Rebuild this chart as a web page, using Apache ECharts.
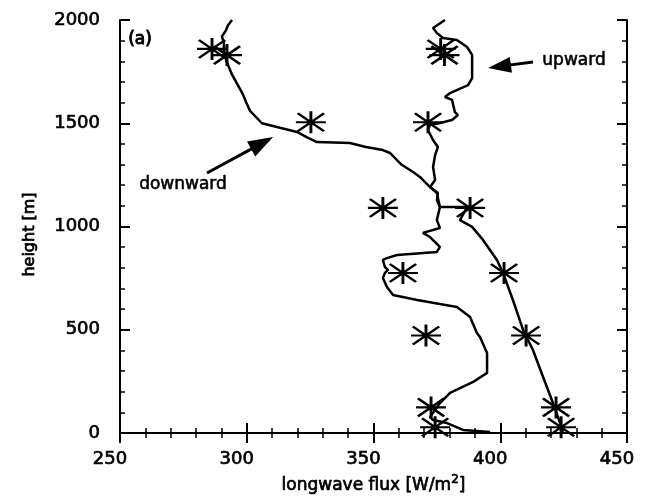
<!DOCTYPE html>
<html>
<head>
<meta charset="utf-8">
<script src="https://cdn.jsdelivr.net/npm/echarts@6/dist/echarts.min.js"></script>
<style>html,body{margin:0;padding:0;background:#fff;}#c{width:648px;height:501px;}</style>
</head>
<body>
<div id="c"></div>
<script>
// ---- data ----
const xTicks = [250, 300, 350, 400, 450];
const yTicks = [0, 500, 1000, 1500, 2000];

const downwardHeight = [2000, 1975, 1950, 1920, 1890, 1845, 1800, 1735, 1640, 1600, 1560, 1500, 1478, 1458, 1430, 1409, 1404, 1385, 1370, 1356, 1300, 1264, 1240, 1191, 1162, 1094, 1031, 993, 969, 949, 901, 877, 862, 847, 838, 804, 790, 775, 751, 707, 668, 644, 610, 562, 484, 465, 387, 291, 247, 194, 145, 77, 63, 48, 15, 5];
const downwardFlux   = [294.2, 292.6, 291.8, 290.2, 291.0, 291.0, 292.0, 294.2, 298.5, 299.8, 301.3, 306.0, 313.1, 319.8, 324.0, 327.7, 340.7, 347.0, 353.7, 356.5, 361.0, 365.6, 368.3, 372.3, 375.0, 376.2, 375.0, 376.2, 369.5, 372.3, 376.2, 375.0, 359.3, 355.3, 353.7, 354.5, 355.7, 354.5, 353.7, 355.3, 357.7, 367.2, 382.9, 388.1, 390.8, 392.0, 394.8, 394.8, 389.3, 380.2, 376.2, 372.3, 373.5, 379.0, 385.3, 396.0];

const upwardHeight = [2000, 1961, 1937, 1913, 1903, 1869, 1831, 1719, 1685, 1646, 1627, 1613, 1554, 1540, 1516, 1501, 1492, 1467, 1419, 1385, 1346, 1288, 1225, 1191, 1162, 1128, 1094, 1094, 1031, 998, 935, 838, 775, 644, 499, 402, 271, 145, 48, 5];
const upwardFlux   = [378.2, 373.5, 375.0, 377.4, 382.9, 386.9, 388.9, 388.9, 387.3, 380.2, 378.2, 381.0, 382.1, 383.3, 381.0, 376.2, 372.3, 371.5, 373.5, 375.4, 374.3, 373.5, 374.3, 372.3, 375.4, 375.0, 376.2, 386.9, 384.1, 388.9, 393.2, 398.7, 401.1, 405.0, 409.0, 412.9, 416.9, 420.8, 423.6, 424.8];

const starHeight   = [1860, 1830, 1505, 1090, 775, 472, 124, 28];
const downStarFlux = [286.3, 292.2, 325.3, 353.7, 361.6, 370.7, 372.7, 374.3];
const upStarFlux   = [376.5, 378.0, 371.5, 388.1, 401.5, 410.2, 422.0, 424.0];

// annotation anchors (data coordinates)
const downArrow = { tail: [284.3, 1259], tip: [310.4, 1433] };
const upArrow   = { tail: [412.9, 1797], tip: [395.2, 1768] };

// ---- chart ----
const pairs = (xs, ys) => xs.map((x, i) => [x, ys[i]]);
const FONT = 'DejaVu Sans';
const star = 'path://M0,11L32,11M16,0L16,22M2,2L30,20M2,20L30,2';
const txt = { fontFamily: FONT, color: '#000', textBorderColor: '#000', textBorderWidth: 0.7 };

const chart = echarts.init(document.getElementById('c'), null, { renderer: 'canvas' });

const axisCommon = {
  type: 'value',
  axisLine: { show: true, lineStyle: { color: '#000', width: 2 } },
  axisTick: { show: true, inside: true, length: 10, lineStyle: { color: '#000', width: 2 } },
  minorTick: { show: true, splitNumber: 5, length: 5, lineStyle: { color: '#000', width: 1.5 } },
  splitLine: { show: false },
  minorSplitLine: { show: false }
};
const plain = v => String(v);

const option = {
  animation: false,
  backgroundColor: '#fff',
  grid: { left: 120, right: 21, top: 20, bottom: 68, containLabel: false },
  xAxis: [
    Object.assign({}, axisCommon, {
      min: xTicks[0], max: xTicks[xTicks.length - 1], interval: 50,
      position: 'bottom',
      name: 'longwave flux [W/m{sup|2}]',
      nameLocation: 'middle', nameGap: 40,
      nameTextStyle: Object.assign({}, txt, { fontSize: 17,
        rich: { sup: Object.assign({}, txt, { fontSize: 12, verticalAlign: 'top', padding: [0, 0, 12, 0] }) } }),
      axisLabel: Object.assign({}, txt, { show: true, margin: 17, fontSize: 18, padding: [0, 20, 0, 0], formatter: plain })
    }),
    Object.assign({}, axisCommon, {
      min: xTicks[0], max: xTicks[xTicks.length - 1], interval: 50,
      position: 'top', axisLabel: { show: false }
    })
  ],
  yAxis: [
    Object.assign({}, axisCommon, {
      min: yTicks[0], max: yTicks[yTicks.length - 1], interval: 500,
      position: 'left',
      name: 'height [m]',
      nameLocation: 'middle', nameGap: 82, nameRotate: 90,
      nameTextStyle: Object.assign({}, txt, { fontSize: 16, padding: [0, 16, 0, 0] }),
      axisLabel: Object.assign({}, txt, { show: true, margin: 20, fontSize: 18, padding: [0, 0, 10, 0], formatter: plain })
    }),
    Object.assign({}, axisCommon, {
      min: yTicks[0], max: yTicks[yTicks.length - 1], interval: 500,
      position: 'right', axisLabel: { show: false }
    })
  ],
  series: [
    { name: 'downward', type: 'line', data: pairs(downwardFlux, downwardHeight),
      showSymbol: false, lineStyle: { color: '#000', width: 2.5 }, z: 3 },
    { name: 'upward', type: 'line', data: pairs(upwardFlux, upwardHeight),
      showSymbol: false, lineStyle: { color: '#000', width: 2.5 }, z: 3 },
    { name: 'downward obs', type: 'scatter', data: pairs(downStarFlux, starHeight),
      symbol: star, symbolSize: [30, 22],
      itemStyle: { color: 'rgba(0,0,0,0)', borderColor: '#000', borderWidth: 2.5, opacity: 1 }, z: 4 },
    { name: 'upward obs', type: 'scatter', data: pairs(upStarFlux, starHeight),
      symbol: star, symbolSize: [30, 22],
      itemStyle: { color: 'rgba(0,0,0,0)', borderColor: '#000', borderWidth: 2.5, opacity: 1 }, z: 4 }
  ]
};
chart.setOption(option);

function arrow(a, headLen, headW) {
  const t = chart.convertToPixel({ gridIndex: 0 }, a.tail);
  const p = chart.convertToPixel({ gridIndex: 0 }, a.tip);
  const dx = p[0] - t[0], dy = p[1] - t[1];
  const L = Math.sqrt(dx * dx + dy * dy), ux = dx / L, uy = dy / L;
  const bx = p[0] - ux * headLen, by = p[1] - uy * headLen;
  const nx = -uy * headW / 2, ny = ux * headW / 2;
  return [
    { type: 'line', shape: { x1: t[0], y1: t[1], x2: bx + ux * 2, y2: by + uy * 2 },
      style: { stroke: '#000', lineWidth: 3 } },
    { type: 'polygon', shape: { points: [[p[0], p[1]], [bx + nx, by + ny], [bx - nx, by - ny]] },
      style: { fill: '#000' } }
  ];
}

const annoStyle = (text, size) => ({ text, font: size + 'px "DejaVu Sans"', fill: '#000', stroke: '#000', lineWidth: 0.6, align: 'center', verticalAlign: 'middle' });

chart.setOption({
  graphic: [
    ...arrow(downArrow, 25, 17),
    ...arrow(upArrow, 23, 16),
    { type: 'text', x: 183, y: 185, style: annoStyle('downward', 17) },
    { type: 'text', x: 574, y: 61, style: annoStyle('upward', 17) },
    { type: 'text', x: 140, y: 40, style: Object.assign(annoStyle('(a)', 17), { lineWidth: 1 }) }
  ]
});
</script>
</body>
</html>
